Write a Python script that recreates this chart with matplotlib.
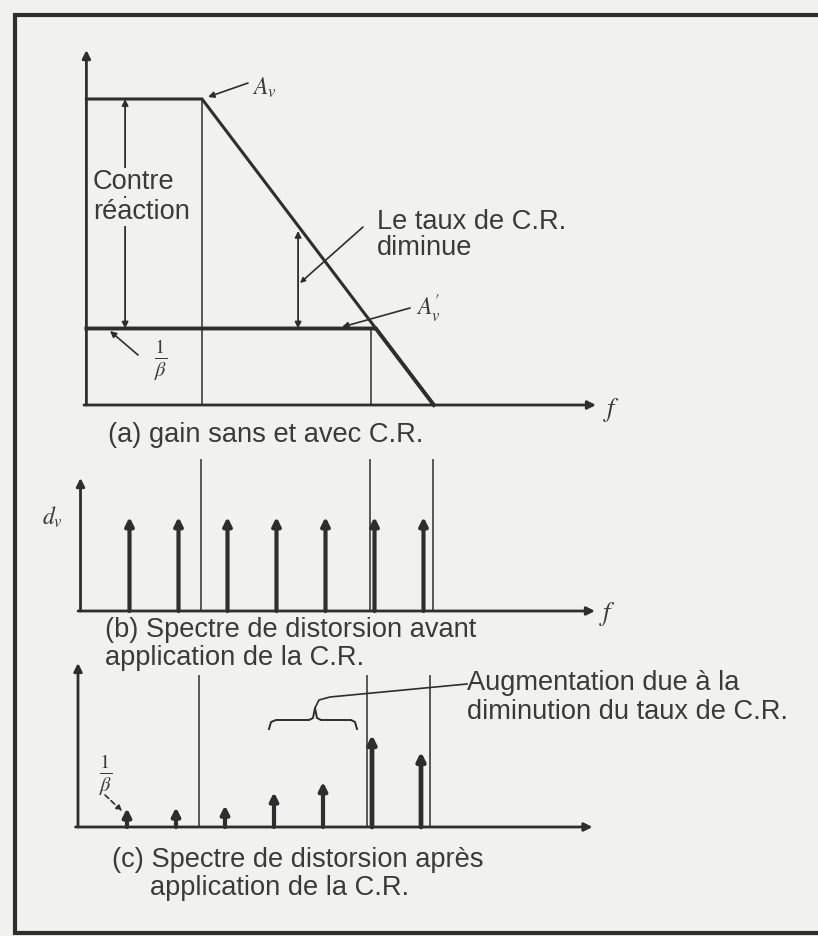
import numpy as np
import matplotlib
matplotlib.use('Agg')
import matplotlib.pyplot as plt

W, H = 818, 936
BG = '#f1f1ef'
INK = '#2e2e2e'
TXT = '#3a3a3a'

# harmonic frequencies (multiples of the fundamental)
HARMONICS = [1, 2, 3, 4, 5, 6, 7]
# (b) distortion before feedback, (c) after feedback
DIST_BEFORE = [1.0, 1.0, 1.0, 1.0, 1.0, 1.0, 1.0]
DIST_AFTER = [0.20, 0.21, 0.23, 0.37, 0.48, 0.98, 0.80]

# (a) gain, in dB
AV_OPEN = 60      # A_v
AV_CLOSED = 15    # A'_v = 1/beta
F_OPEN = 2.46     # open-loop corner
F_CLOSED = 5.9    # closed-loop corner
F_UNITY = 7.19    # slope reaches the axis
F_MAX = 10.5

PX_F = 49.0  # pixels per harmonic step

plt.rcParams['font.family'] = ['Liberation Sans', 'DejaVu Sans']
plt.rcParams['mathtext.fontset'] = 'stix'

fig = plt.figure(figsize=(W / 100, H / 100), dpi=100, facecolor=BG)


def panel(top, bottom, x0, base, px_unit):
    ax = fig.add_axes([0, 1 - bottom / H, 1, (bottom - top) / H])
    ax.set_xlim(-x0 / PX_F, (W - x0) / PX_F)
    ax.set_ylim((base - bottom) / px_unit, (base - top) / px_unit)
    ax.axis('off')
    ax.patch.set_visible(False)
    return ax


def arrow(ax, p0, p1, lw=2.0, ms=12, style='-|>', ls='-'):
    ax.annotate('', xy=p1, xytext=p0,
                arrowprops=dict(arrowstyle=style, color=INK, lw=lw, mutation_scale=ms,
                                shrinkA=0, shrinkB=0, linestyle=ls))


def axes_arrows(ax, x_start, y_top):
    arrow(ax, (x_start - 0.05, 0), (F_MAX, 0), lw=2.0, ms=12)
    arrow(ax, (x_start, 0), (x_start, y_top), lw=2.0, ms=12)


def spikes(ax, heights, lws):
    for f, h, lw in zip(HARMONICS, heights, lws):
        arrow(ax, (f, 0), (f, h), lw=lw, ms=12)


# ---- (a) gain without / with feedback
axa = panel(40, 420, 81.5, 405, 5.1)
open_f = [0.1, F_OPEN, F_UNITY]
open_g = [AV_OPEN, AV_OPEN, 0]
f_cross = np.interp(AV_CLOSED, [0, AV_OPEN], [F_UNITY, F_OPEN])
closed_f = [0.1, f_cross, F_UNITY]
closed_g = [AV_CLOSED, AV_CLOSED, 0]
axa.plot(open_f, open_g, color=INK, lw=2.2, solid_joinstyle='miter')
axa.plot(closed_f, closed_g, color=INK, lw=2.8, solid_joinstyle='miter')
axa.vlines(F_OPEN, 0, AV_OPEN, color=INK, lw=1.1)
axa.vlines(F_CLOSED, 0, AV_CLOSED, color=INK, lw=1.1)
axes_arrows(axa, 0.1, 69.6)
arrow(axa, (0.89, AV_CLOSED), (0.89, AV_OPEN), lw=1.3, ms=9, style='<|-|>')
f_mid = 4.42
g_mid = np.interp(f_mid, [F_OPEN, F_UNITY], [AV_OPEN, 0])
arrow(axa, (f_mid, AV_CLOSED), (f_mid, g_mid - 1.0), lw=1.3, ms=9, style='<|-|>')

# ---- (b) distortion spectrum before feedback
axb = panel(440, 625, 80.5, 611, 94)
axb.vlines([F_OPEN, F_CLOSED, F_UNITY], 0, 1.617, color=INK, lw=1.1)
axes_arrows(axb, 0.0, 1.415)
spikes(axb, DIST_BEFORE, [3.0] * 7)

# ---- (c) distortion spectrum after feedback
axc = panel(655, 840, 78, 827, 94)
axc.vlines([F_OPEN, F_CLOSED, F_UNITY], 0, 1.617, color=INK, lw=1.1)
axes_arrows(axc, 0.0, 1.745)
spikes(axc, DIST_AFTER, [3.0, 3.0, 3.0, 3.0, 3.0, 3.4, 3.4])

# ---- overlay in pixel coordinates: frame, labels, leaders
ov = fig.add_axes([0, 0, 1, 1])
ov.set_xlim(0, W)
ov.set_ylim(H, 0)
ov.axis('off')
ov.patch.set_visible(False)

ov.plot([W, 15, 15, W], [15, 15, 933, 933], color=INK, lw=3, solid_joinstyle='miter')

FS = 19.6
def txt(x, y, s, **kw):
    kw.setdefault('fontsize', FS)
    kw.setdefault('ha', 'left')
    ov.text(x, y, s, color=TXT, va='center', **kw)

box = dict(facecolor=BG, edgecolor='none', pad=1)
txt(93, 182, 'Contre', bbox=box)
txt(93, 212, 'réaction', bbox=box)
txt(377, 222, 'Le taux de C.R.')
txt(377, 248, 'diminue')
txt(108, 435, '(a) gain sans et avec C.R.')
txt(105, 630, '(b) Spectre de distorsion avant')
txt(105, 658, 'application de la C.R.')
txt(467, 683, 'Augmentation due à la')
txt(467, 712, 'diminution du taux de C.R.')
txt(112, 860, '(c) Spectre de distorsion après')
txt(150, 888, 'application de la C.R.')

txt(252, 88, r'$A_v$', fontsize=17)
txt(416, 309, r"$A_v^{\prime}$", fontsize=17)
txt(161, 360, r'$\frac{1}{\beta}$', fontsize=21, ha='center')
txt(106, 775, r'$\frac{1}{\beta}$', fontsize=21, ha='center')
txt(52, 517, r'$d_v$', fontsize=17, ha='center')
txt(612, 410, r'$f$', fontsize=19, ha='center')
txt(608, 614, r'$f$', fontsize=19, ha='center')

arrow(ov, (248, 83), (208, 97), lw=1.2, ms=9)
arrow(ov, (410, 308), (342, 327), lw=1.2, ms=9)
arrow(ov, (138, 355), (110, 331), lw=1.2, ms=9)
arrow(ov, (363, 227), (300, 283), lw=1.2, ms=7)
arrow(ov, (105, 795), (122, 811), lw=1.2, ms=8, ls=(0, (3, 2)))

brace_x = [269, 271, 276, 309, 313, 315, 317, 321, 351, 355, 357]
brace_y = [729, 722, 720, 720, 718, 708, 718, 720, 720, 722, 729]
ov.plot(brace_x, brace_y, color=INK, lw=1.4)
ov.plot([315, 319, 330, 467], [708, 700, 697, 684], color=INK, lw=1.2)

fig.savefig('out.png', dpi=100, facecolor=BG)
